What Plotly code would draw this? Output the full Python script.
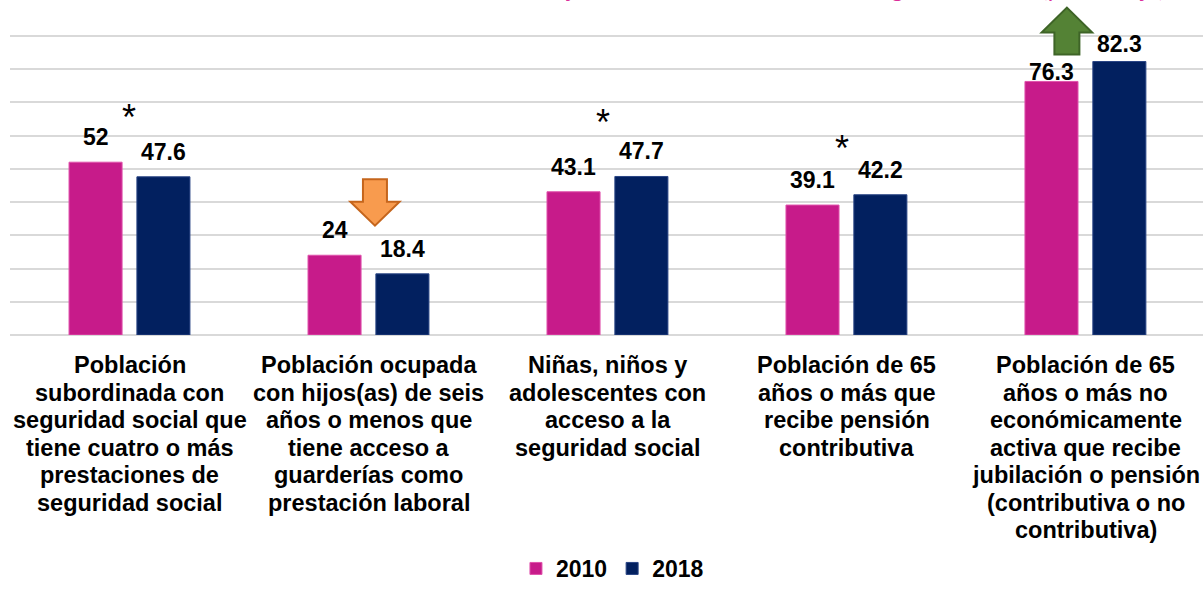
import plotly.graph_objects as go

# ---------------- data ----------------
categories = [
    "Población<br>subordinada con<br>seguridad social que<br>tiene cuatro o más<br>prestaciones de<br>seguridad social",
    "Población ocupada<br>con hijos(as) de seis<br>años o menos que<br>tiene acceso a<br>guarderías como<br>prestación laboral",
    "Niñas, niños y<br>adolescentes con<br>acceso a la<br>seguridad social",
    "Población de 65<br>años o más que<br>recibe pensión<br>contributiva",
    "Población de 65<br>años o más no<br>económicamente<br>activa que recibe<br>jubilación o pensión<br>(contributiva o no<br>contributiva)",
]
series_names = ["2010", "2018"]
values_2010 = [52, 24, 43.1, 39.1, 76.3]
values_2018 = [47.6, 18.4, 47.7, 42.2, 82.3]
significant = [True, False, True, True, False]
trend = [None, "down", None, None, "up"]
title_text = "Indicadores seleccionados de acceso al trabajo decente con cobertura de seguridad social (porcentaje)"

# ---------------- style ----------------
PINK = "#C71B8A"
NAVY = "#02205F"
FONT = "Liberation Sans, Arial, sans-serif"
BAR_W = 0.222
OFF_A = -0.255
OFF_B = 0.029
Y_MAX = 99
PX_Y = 329.3 / Y_MAX          # pixels per y unit
PX_X = 239.0                  # pixels per category
label_shift_a = [25, 25, 25, 25, 9.5]
label_shift_b = [25, 25, 25, 25, 18]
asterisk_y = [65.6, None, 63.8, 56.1, None]
asterisk_dx = [-0.005, 0, -0.02, -0.02, 0]

idx = list(range(len(categories)))

fig = go.Figure()
fig.add_trace(go.Bar(
    x=idx, y=values_2010, name=series_names[0], width=BAR_W, offset=OFF_A,
    marker=dict(color=PINK, line=dict(color="#E052AC", width=1)),
))
fig.add_trace(go.Bar(
    x=idx, y=values_2018, name=series_names[1], width=BAR_W, offset=OFF_B,
    marker=dict(color=NAVY, line=dict(color="#2A4585", width=1)),
))

annotations = []
# value labels
for i in idx:
    for vals, off, shifts in ((values_2010, OFF_A, label_shift_a), (values_2018, OFF_B, label_shift_b)):
        annotations.append(dict(
            x=i + off + BAR_W / 2, y=vals[i], xref="x", yref="y",
            text=str(vals[i]), showarrow=False, yanchor="middle", yshift=shifts[i],
            font=dict(family=FONT, size=23, color="#000000", weight="bold"),
        ))
# significance asterisks
for i in idx:
    if significant[i] and asterisk_y[i] is not None:
        annotations.append(dict(
            x=i + asterisk_dx[i], y=asterisk_y[i], xref="x", yref="y", text="*",
            showarrow=False, yanchor="middle",
            font=dict(family=FONT, size=36, color="#000000"),
        ))
# category labels (one annotation per line for exact line spacing)
for i, cat in enumerate(categories):
    for j, line in enumerate(cat.split("<br>")):
        annotations.append(dict(
            x=i, y=0, xref="x", yref="y", text=line, showarrow=False,
            yanchor="middle", yshift=-(30 + 27.5 * j),
            font=dict(family=FONT, size=23.5, color="#000000", weight="bold"),
        ))
# title (clipped by the top edge, as in the reference)
annotations.append(dict(
    x=0.522, y=1, xref="paper", yref="paper", text=title_text, showarrow=False,
    xanchor="center", yanchor="bottom", yshift=1.5,
    font=dict(family="Lato, sans-serif", size=24, color="#DB2D9B"),
))

# trend arrows (in data coordinates, anchored to categories)
shapes = []
def arrow_path(cx, y_tail, y_base, y_tip, half_shaft, half_head):
    return (f"M{cx-half_shaft},{y_tail} L{cx+half_shaft},{y_tail} L{cx+half_shaft},{y_base} "
            f"L{cx+half_head},{y_base} L{cx},{y_tip} L{cx-half_head},{y_base} "
            f"L{cx-half_shaft},{y_base} Z")
for i in idx:
    if trend[i] == "down":
        cx = i + 6 / PX_X
        shapes.append(dict(type="path", xref="x", yref="y",
                           path=arrow_path(cx, 46.9, 40.1, 32.9, 12 / PX_X, 24.6 / PX_X),
                           fillcolor="#F89B4E", line=dict(color="#C5651C", width=2)))
    elif trend[i] == "up":
        cx = i - 19 / PX_X
        shapes.append(dict(type="path", xref="x", yref="y",
                           path=arrow_path(cx, 84.4, 91.0, 98.5, 12.5 / PX_X, 25.3 / PX_X),
                           fillcolor="#548235", line=dict(color="#3E6427", width=2)))

fig.update_layout(
    width=1203, height=590,
    margin=dict(l=10, r=0, t=5.7, b=255, pad=0),
    paper_bgcolor="white", plot_bgcolor="white",
    barmode="overlay",
    showlegend=True,
    legend=dict(orientation="h", x=0.505, xanchor="center", yref="container", y=0,
                yanchor="bottom", font=dict(family=FONT, size=23, color="#000000", weight="bold"),
                itemwidth=30, traceorder="normal"),
    xaxis=dict(range=[-0.502, 4.49], showticklabels=False, showgrid=False, zeroline=False,
               showline=False, ticks=""),
    yaxis=dict(range=[0, Y_MAX], dtick=10, tick0=0, showticklabels=False, showgrid=True,
               gridcolor="#D9D9D9", gridwidth=2, zeroline=True, zerolinecolor="#D9D9D9",
               zerolinewidth=2, showline=False, ticks=""),
    annotations=annotations,
    shapes=shapes,
)

fig.write_html("out.html", config={"displayModeBar": False},
               post_script="document.body.style.margin='0';")
